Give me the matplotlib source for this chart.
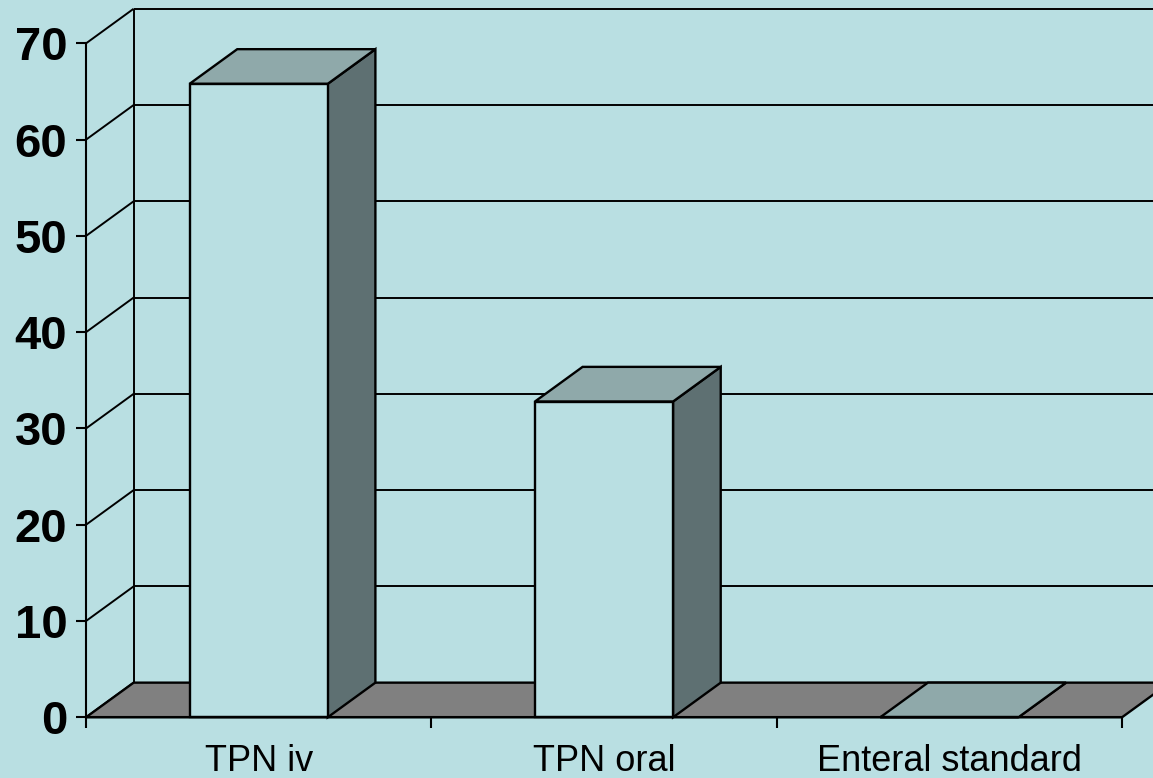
import matplotlib.pyplot as plt
from matplotlib.patches import Polygon

# Data
CATEGORIES = ["TPN iv", "TPN oral", "Enteral standard"]
VALUES = [65.8, 32.8, 0.0]
Y_TICKS = [0, 10, 20, 30, 40, 50, 60, 70]

# Style
BG = "#B9DFE2"
FRONT = "#B9DFE2"
TOP = "#8FA9AA"
SIDE = "#5E7072"
FLOOR = "#808080"

DEPTH_X = 0.138   # depth offset in category units
DEPTH_Y = 3.6     # depth offset in value units
BAR_W = 0.4

plt.rcParams["font.family"] = ["Liberation Sans", "DejaVu Sans"]

W, H = 1153, 778
fig = plt.figure(figsize=(W / 100, H / 100), dpi=100, facecolor=BG)
ax = fig.add_axes([86 / W, 60.7 / H, 1036 / W, 673.9 / H])
ax.set_facecolor("none")

n = len(CATEGORIES)
ymax = max(Y_TICKS)
ax.set_xlim(0, n)
ax.set_ylim(0, ymax)


def face(pts, color, z):
    ax.add_patch(Polygon(pts, closed=True, facecolor=color, edgecolor="black",
                         linewidth=1.7, joinstyle="miter", zorder=z,
                         clip_on=False))


def line(xs, ys, z=1, lw=1.4):
    ax.plot(xs, ys, color="black", lw=lw, zorder=z, clip_on=False,
            solid_capstyle="butt")


# back wall and side wall grid
for y in Y_TICKS:
    line([DEPTH_X, n + DEPTH_X], [y + DEPTH_Y, y + DEPTH_Y])
    line([0, DEPTH_X], [y, y + DEPTH_Y])
line([DEPTH_X, DEPTH_X], [DEPTH_Y, ymax + DEPTH_Y])

# floor
face([(0, 0), (n, 0), (n + DEPTH_X, DEPTH_Y), (DEPTH_X, DEPTH_Y)], FLOOR, 2)

# 3D bars
for i, v in enumerate(VALUES):
    x0 = i + 0.5 - BAR_W / 2
    x1 = x0 + BAR_W
    face([(x1, 0), (x1 + DEPTH_X, DEPTH_Y), (x1 + DEPTH_X, v + DEPTH_Y), (x1, v)],
         SIDE, 3)
    face([(x0, v), (x1, v), (x1 + DEPTH_X, v + DEPTH_Y), (x0 + DEPTH_X, v + DEPTH_Y)],
         TOP, 3)
    face([(x0, 0), (x1, 0), (x1, v), (x0, v)], FRONT, 3)

# axes
ax.set_yticks(Y_TICKS)
ax.set_yticklabels([str(t) for t in Y_TICKS], fontsize=34, fontweight="bold")
ax.tick_params(axis="y", direction="out", length=7.5, width=1.5, pad=6)

ax.set_xticks(range(n + 1))
ax.set_xticklabels([])
ax.set_xticks([i + 0.5 for i in range(n)], minor=True)
ax.set_xticklabels(CATEGORIES, minor=True, fontsize=26)
ax.tick_params(axis="x", which="major", direction="out", length=8, width=1.5)
ax.tick_params(axis="x", which="minor", length=0, pad=19)

for side in ["top", "right"]:
    ax.spines[side].set_visible(False)
for side in ["left", "bottom"]:
    ax.spines[side].set_linewidth(1.5)
    ax.spines[side].set_zorder(4)

fig.savefig("out.png", dpi=100, facecolor=BG)
